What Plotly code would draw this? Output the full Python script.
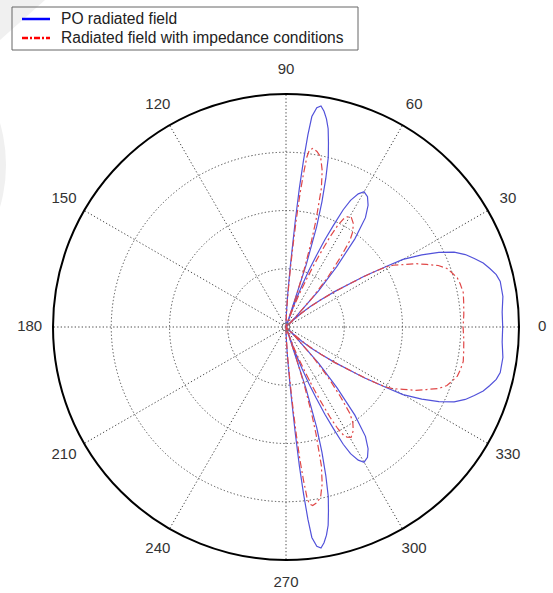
import plotly.graph_objects as go

# Angles (degrees) for the upper half of the pattern (0..90)
PO_THETA_UP = [0, 4, 8, 12, 14, 16, 18, 20, 22, 24, 26, 28, 30, 31, 32, 33, 34, 36, 38, 40,
               42, 44, 45, 46, 48, 50, 52, 54, 56, 58, 60, 61.5, 63, 64, 65, 66, 67, 68, 69, 70,
               71, 72, 73, 74, 75, 76, 77, 78, 79, 80, 81, 82, 83, 83.5, 84, 84.5, 85, 85.5, 86, 87,
               88, 89, 90]
PO_R_UP = [0.93, 0.93, 0.94, 0.94, 0.93, 0.91, 0.89, 0.86, 0.83, 0.79, 0.73, 0.66, 0.58, 0.51, 0.45, 0.40,
           0.34, 0.26, 0.19, 0.14, 0.09, 0.04, 0.0, 0.06, 0.21, 0.34, 0.48, 0.58, 0.63, 0.66, 0.67, 0.65,
           0.61, 0.56, 0.48, 0.41, 0.33, 0.26, 0.19, 0.12, 0.0, 0.28, 0.45, 0.56, 0.66, 0.75, 0.81, 0.87,
           0.91, 0.94, 0.96, 0.95, 0.91, 0.83, 0.72, 0.60, 0.46, 0.33, 0.25, 0.14, 0.07, 0.03, 0.0]
# Lower half (0..-90)
PO_THETA_LO = [0, -4, -8, -12, -14, -16, -18, -20, -22, -24, -26, -28, -30, -31, -32, -33, -34, -36, -38, -40,
               -42, -44, -45, -46, -48, -50, -52, -54, -56, -58, -60, -61.5, -63, -64, -65, -66, -67, -68, -69, -70,
               -71, -72, -73, -74, -75, -76, -77, -78, -79, -80, -81, -82, -83, -83.5, -84, -84.5, -85, -85.5, -86, -87,
               -88, -89, -90]
PO_R_LO = [0.93, 0.93, 0.94, 0.94, 0.93, 0.91, 0.89, 0.86, 0.83, 0.79, 0.73, 0.66, 0.58, 0.51, 0.45, 0.40,
           0.34, 0.26, 0.19, 0.14, 0.09, 0.04, 0.0, 0.06, 0.21, 0.34, 0.48, 0.58, 0.63, 0.66, 0.67, 0.65,
           0.61, 0.56, 0.48, 0.41, 0.33, 0.26, 0.19, 0.12, 0.0, 0.28, 0.45, 0.56, 0.66, 0.75, 0.81, 0.87,
           0.91, 0.94, 0.96, 0.95, 0.91, 0.83, 0.72, 0.60, 0.46, 0.33, 0.25, 0.14, 0.07, 0.03, 0.0]

IMP_THETA_UP = [0, 4, 8, 11, 14, 16, 18, 20, 22, 24, 26, 28, 30, 31, 32, 33, 34, 36, 38, 40,
                42, 44, 45, 46, 48, 50, 52, 53.5, 55, 57, 59.5, 61, 62, 63, 64, 65, 66, 67, 68, 69,
                70, 71, 71.5, 72.5, 73.5, 74.3, 75.7, 77, 78.5, 80, 81.5, 82.5, 83, 83.5, 84, 84.5, 85,
                85.5, 86, 87, 88, 89, 90]
IMP_R_UP = [0.76, 0.765, 0.77, 0.775, 0.77, 0.765, 0.75, 0.735, 0.705, 0.66, 0.62, 0.57, 0.53, 0.50, 0.45,
            0.39, 0.34, 0.26, 0.19, 0.13, 0.085, 0.04, 0.0, 0.06, 0.17, 0.28, 0.38, 0.46, 0.50, 0.53,
            0.55, 0.54, 0.525, 0.49, 0.43, 0.35, 0.28, 0.205, 0.15, 0.095, 0.045, 0.0, 0.13, 0.26, 0.385,
            0.475, 0.615, 0.69, 0.745, 0.765, 0.775, 0.765, 0.735, 0.66, 0.575, 0.47, 0.365, 0.28, 0.205,
            0.12, 0.06, 0.02, 0.0]
IMP_THETA_LO = [0, -4, -8, -11, -14, -16, -18, -20, -22, -24, -26, -28, -30, -31, -32, -33, -34, -36, -38, -40,
                -42, -44, -45, -46, -48, -50, -52, -53.5, -55, -57, -59.5, -61, -62, -63, -64, -65, -66, -67, -68, -69,
                -70, -71, -71.5, -72.5, -73.5, -74.3, -75.7, -77, -78.5, -80, -81.5, -82.5, -83, -83.5, -84, -84.5, -85,
                -85.5, -86, -87, -88, -89, -90]
IMP_R_LO = [0.76, 0.765, 0.77, 0.775, 0.77, 0.765, 0.75, 0.735, 0.705, 0.66, 0.62, 0.57, 0.53, 0.50, 0.45,
            0.39, 0.34, 0.26, 0.19, 0.13, 0.085, 0.04, 0.0, 0.06, 0.17, 0.28, 0.38, 0.46, 0.50, 0.53,
            0.55, 0.54, 0.525, 0.49, 0.43, 0.35, 0.28, 0.205, 0.15, 0.095, 0.045, 0.0, 0.13, 0.26, 0.385,
            0.475, 0.615, 0.69, 0.745, 0.765, 0.775, 0.765, 0.735, 0.66, 0.575, 0.47, 0.365, 0.28, 0.205,
            0.12, 0.06, 0.02, 0.0]

ANGLE_TICKS = [0, 30, 60, 90, 120, 150, 180, 210, 240, 270, 300, 330]
ANGLE_LABELS = ["0", "30", "60", "90", "120", "150", "180", "210", "240", "270", "300", "330"]
RADIAL_GRID = [0.25, 0.5, 0.75]

SERIES_NAMES = ["PO radiated field", "Radiated field with impedance conditions"]

po_theta = PO_THETA_LO[::-1] + PO_THETA_UP[1:]
po_r = PO_R_LO[::-1] + PO_R_UP[1:]
imp_theta = IMP_THETA_LO[::-1] + IMP_THETA_UP[1:]
imp_r = IMP_R_LO[::-1] + IMP_R_UP[1:]

BLUE = "#5252da"
RED = "#e04848"
GRID = "#4a4a4a"
FONT = "Liberation Sans, Arial, sans-serif"

W, H = 553, 593
cx, cy, R = 286, 327, 233
RL = R * 1.1  # label circle radius (MATLAB places labels at 1.1 R)

fig = go.Figure()
fig.add_trace(go.Scatterpolar(r=po_r, theta=po_theta, mode="lines", name=SERIES_NAMES[0],
                              line=dict(color=BLUE, width=1.2), showlegend=False, hoverinfo="skip"))
fig.add_trace(go.Scatterpolar(r=imp_r, theta=imp_theta, mode="lines", name=SERIES_NAMES[1],
                              line=dict(color=RED, width=1.2, dash="7px,3px,2px,3px"),
                              showlegend=False, hoverinfo="skip"))
# center marker
fig.add_trace(go.Scatterpolar(r=[0], theta=[0], mode="markers",
                              marker=dict(symbol="circle-open", size=8, color="#777", line=dict(width=1)),
                              showlegend=False, hoverinfo="skip"))
# angular labels on an invisible concentric polar subplot of radius 1.1 R
fig.add_trace(go.Scatterpolar(r=[1] * len(ANGLE_TICKS), theta=ANGLE_TICKS, mode="text",
                              text=ANGLE_LABELS, textposition="middle center", cliponaxis=False,
                              textfont=dict(family=FONT, size=15, color="#333"),
                              subplot="polar2", showlegend=False, hoverinfo="skip"))


def px(x):
    return x / W


def py(y):
    return 1 - y / H


# hand-made legend box (to match the compact MATLAB legend)
LEG_X0, LEG_X1, LEG_Y0, LEG_Y1 = 12, 358, 7, 50
ROW_Y = [19, 38]
shapes = [
    dict(type="circle", xref="paper", yref="paper",
         x0=px(-294), x1=px(6), y0=py(315), y1=py(15),
         fillcolor="#f0f0f0", line=dict(width=0), layer="below"),
    dict(type="path", xref="paper", yref="paper",
         path=f"M 0 1 L {px(45)} 1 L 0 {py(40)} Z",
         fillcolor="#f0f0f0", line=dict(width=0), layer="below"),
    dict(type="rect", xref="paper", yref="paper",
         x0=px(LEG_X0), x1=px(LEG_X1), y0=py(LEG_Y1), y1=py(LEG_Y0),
         line=dict(color="#666", width=1), fillcolor="rgba(0,0,0,0)"),
    dict(type="line", xref="paper", yref="paper",
         x0=px(22), x1=px(50), y0=py(ROW_Y[0]), y1=py(ROW_Y[0]),
         line=dict(color="#0000ff", width=2.5)),
    dict(type="line", xref="paper", yref="paper",
         x0=px(22), x1=px(50), y0=py(ROW_Y[1]), y1=py(ROW_Y[1]),
         line=dict(color="#ff0000", width=2.5, dash="6px,2px,2px,2px")),
]
annotations = [
    dict(xref="paper", yref="paper", x=px(59), y=py(ROW_Y[i]), xanchor="left", yanchor="middle",
         text=SERIES_NAMES[i], showarrow=False, font=dict(family=FONT, size=15.6, color="#222"))
    for i in range(2)
]

fig.update_layout(
    width=W, height=H,
    margin=dict(l=0, r=0, t=0, b=0),
    paper_bgcolor="white",
    showlegend=False,
    font=dict(family=FONT, size=15, color="#333"),
    polar=dict(
        domain=dict(x=[px(cx - R), px(cx + R)], y=[py(cy + R), py(cy - R)]),
        bgcolor="white",
        radialaxis=dict(range=[0, 1], tickvals=RADIAL_GRID, showticklabels=False, ticks="",
                        showline=False, gridcolor=GRID, griddash="1.3px,2.2px", gridwidth=1.3),
        angularaxis=dict(tickmode="array", tickvals=ANGLE_TICKS, ticktext=ANGLE_LABELS,
                         showticklabels=False,
                         direction="counterclockwise", rotation=0, ticks="",
                         showline=True, linecolor="black", linewidth=2,
                         gridcolor=GRID, griddash="1.3px,2.2px", gridwidth=1.3),
    ),
    polar2=dict(
        domain=dict(x=[px(cx - RL), px(cx + RL)], y=[py(cy + RL), py(cy - RL)]),
        bgcolor="rgba(0,0,0,0)",
        radialaxis=dict(range=[0, 1], visible=False, showgrid=False),
        angularaxis=dict(visible=False, showgrid=False, showline=False,
                         direction="counterclockwise", rotation=0),
    ),
    shapes=shapes,
    annotations=annotations,
)

fig.write_html("out.html", config={"displayModeBar": False})

# remove the default 8px body margin so the figure fills the window exactly
with open("out.html", "r", encoding="utf-8") as f:
    html = f.read()
html = html.replace("<body>", '<body style="margin:0;padding:0;">', 1)
with open("out.html", "w", encoding="utf-8") as f:
    f.write(html)
